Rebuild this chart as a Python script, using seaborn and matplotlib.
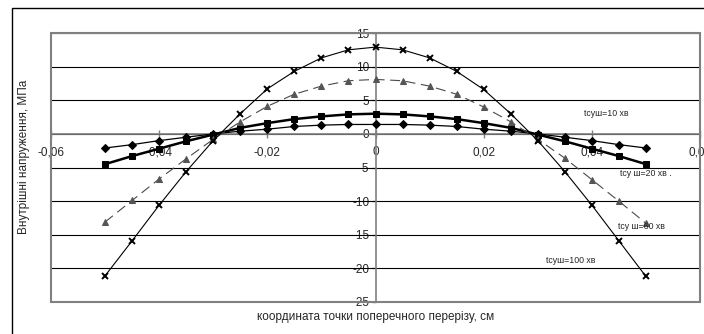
import matplotlib
matplotlib.use("Agg")
import matplotlib.pyplot as plt
import seaborn as sns
import numpy as np
import pandas as pd
from matplotlib.patches import Rectangle

# ---- data ----
x_coord = [-0.05, -0.045, -0.04, -0.035, -0.03, -0.025, -0.02, -0.015, -0.01, -0.005, 0.0,
           0.005, 0.01, 0.015, 0.02, 0.025, 0.03, 0.035, 0.04, 0.045, 0.05]
s10 = [-2.1, -1.6, -1.0, -0.5, 0.0, 0.4, 0.7, 1.1, 1.3, 1.4, 1.4,
       1.4, 1.3, 1.1, 0.7, 0.4, 0.0, -0.5, -1.0, -1.6, -2.1]
s20 = [-4.5, -3.3, -2.2, -1.1, -0.1, 0.9, 1.6, 2.2, 2.6, 2.9, 3.0,
       2.9, 2.6, 2.2, 1.6, 0.9, -0.1, -1.1, -2.2, -3.3, -4.5]
s60 = [-13.1, -9.9, -6.7, -3.7, -0.8, 1.8, 4.1, 5.9, 7.1, 7.9, 8.1,
       7.9, 7.1, 5.9, 4.0, 1.8, -0.8, -3.6, -6.8, -10.0, -13.3]
s100 = [-21.1, -15.9, -10.6, -5.6, -1.0, 3.0, 6.7, 9.3, 11.3, 12.5, 12.9,
        12.5, 11.3, 9.3, 6.6, 3.0, -1.0, -5.6, -10.6, -15.9, -21.2]
series_labels = ["tсуш=10 хв", "tсу ш=20 хв .", "tсу ш=60 хв", "tсуш=100 хв"]
x_ticks = [-0.06, -0.04, -0.02, 0.0, 0.02, 0.04, 0.06]
x_ticklabels = ["-0,06", "-0,04", "-0,02", "0", "0,02", "0,04", "0,06"]
y_ticks = [-25, -20, -15, -10, -5, 0, 5, 10, 15]
x_label = "координата точки поперечного перерізу, см"
y_label = "Внутрішні напруження, МПа"

sns.set_style("white")
plt.rcParams["font.family"] = ["Liberation Sans", "DejaVu Sans"]

fig = plt.figure(figsize=(7.04, 3.34), dpi=100)
ax = fig.add_axes([51/704, 32/334, 649/704, 269/334])

df = pd.DataFrame({"x": x_coord, "s10": s10, "s20": s20, "s60": s60, "s100": s100})

sns.lineplot(data=df, x="x", y="s10", ax=ax, color="black", lw=0.9, marker="D",
             markersize=3.6, markeredgecolor="black", markerfacecolor="black",
             sort=False, estimator=None, zorder=5)
sns.lineplot(data=df, x="x", y="s20", ax=ax, color="black", lw=1.8, marker="s",
             markersize=4.6, markeredgecolor="black", markerfacecolor="black",
             sort=False, estimator=None, zorder=5)
sns.lineplot(data=df, x="x", y="s60", ax=ax, color="#4a4a4a", lw=0.8, marker="^",
             markersize=5, markeredgecolor="#555555", markerfacecolor="#555555",
             dashes=(9, 5), sort=False, estimator=None, zorder=5)
sns.lineplot(data=df, x="x", y="s100", ax=ax, color="black", lw=0.8, marker="x",
             markersize=5, markeredgewidth=1.4, markeredgecolor="black",
             sort=False, estimator=None, zorder=5)

ax.set_xlim(-0.06, 0.06)
ax.set_ylim(-25, 15)
ax.set_yticks(y_ticks)
ax.set_yticklabels([str(v) for v in y_ticks])
ax.set_xticks(x_ticks)
ax.set_xticklabels(x_ticklabels)

for v in y_ticks:
    ax.axhline(v, color="black", lw=0.8, zorder=1)

# spines: centered axes
ax.spines["left"].set_position(("data", 0))
ax.spines["bottom"].set_position(("data", 0))
for s in ["left", "bottom"]:
    ax.spines[s].set_color("#808080")
    ax.spines[s].set_linewidth(1.2)
    ax.spines[s].set_zorder(2)
for s in ["top", "right"]:
    ax.spines[s].set_visible(False)
# gray plot area border
ax.add_patch(Rectangle((0, 0), 1, 1, transform=ax.transAxes, fill=False,
                       edgecolor="#808080", lw=1.5, zorder=3, clip_on=False))

ax.tick_params(axis="y", direction="out", length=3, width=1, color="#808080",
               labelsize=8.5, pad=1.5, left=True)
ax.tick_params(axis="x", direction="inout", length=6, width=1, color="#808080",
               labelsize=8.5, pad=6, bottom=True)
ax.set_xlabel("")
ax.set_ylabel("")

fig.text(376/704, 1 - 317/334, x_label, ha="center", va="center", fontsize=8.5)
fig.text(24/704, 1 - 157/334, y_label, ha="center", va="center", fontsize=8.5,
         rotation=90)

# series annotations
ann_pos = [(0.0386, 3.1), (0.0452, -5.95), (0.0449, -13.8), (0.0316, -18.9)]
for lab, (px, py) in zip(series_labels, ann_pos):
    ax.text(px, py, lab, fontsize=6.3, ha="left", va="center", zorder=6)

# outer chart frame
fig.patches.append(Rectangle((12/704, -0.1), 1.0, 1 - 8/334 + 0.1,
                             transform=fig.transFigure, fill=False,
                             edgecolor="black", lw=1.0))

fig.savefig("out.png", dpi=100)
